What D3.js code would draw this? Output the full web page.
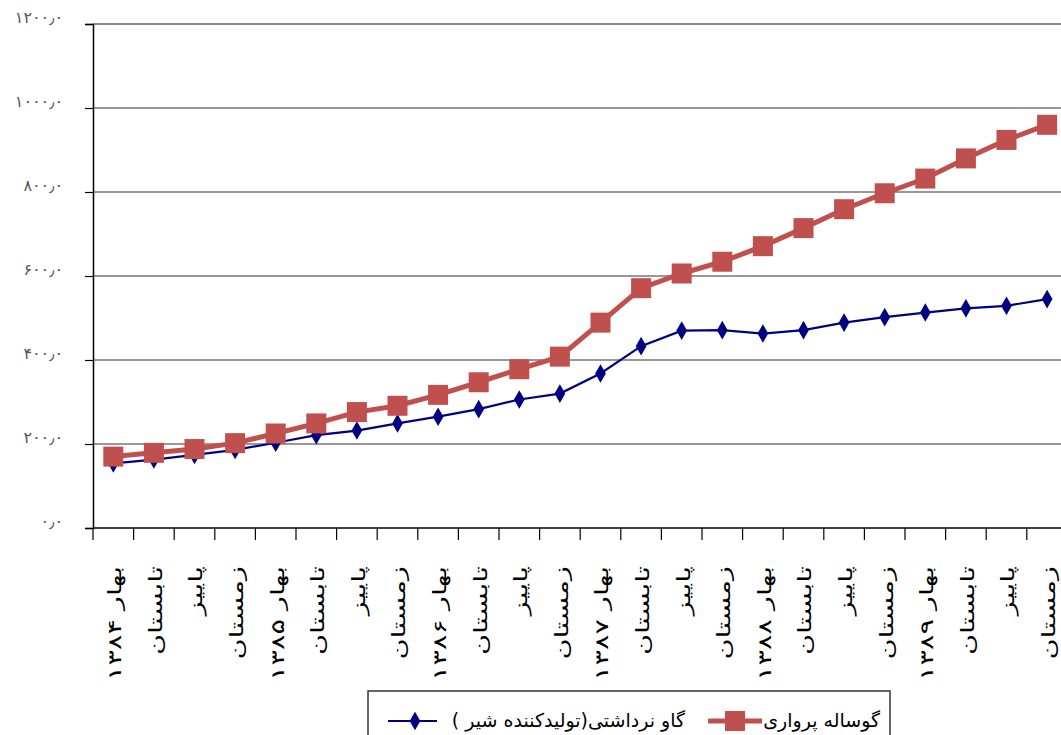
<!DOCTYPE html>
<meta charset="utf-8">
<style>
body { margin: 0; background: #fff; }
svg text { font-family: "DejaVu Sans", sans-serif; }
</style>
<svg id="chart" width="1061" height="735"></svg>
<script src="https://d3js.org/d3.v7.min.js"></script>
<script>

var categories = [
  "بهار ۱۳۸۴", "تابستان", "پاییز", "زمستان",
  "بهار ۱۳۸۵", "تابستان", "پاییز", "زمستان",
  "بهار ۱۳۸۶", "تابستان", "پاییز", "زمستان",
  "بهار ۱۳۸۷", "تابستان", "پاییز", "زمستان",
  "بهار ۱۳۸۸", "تابستان", "پاییز", "زمستان",
  "بهار ۱۳۸۹", "تابستان", "پاییز", "زمستان"
];

// گاو نرداشتی (تولیدکننده شیر)
var gavNardashti = [154, 163, 174, 186, 203, 221, 232, 249, 265, 283, 306, 320,
                    368, 433, 470, 471, 463, 471, 489, 502, 513, 523, 529, 545];

// گوساله پرواری
var gusalehParvari = [170, 179, 188, 202, 225, 249, 276, 291, 317, 347, 378, 408,
                      489, 571, 606, 634, 671, 714, 759, 797, 832, 880, 924, 960];

var yTicks = [0, 200, 400, 600, 800, 1000, 1200];

var nameRed = "گوساله پرواری",
    nameBlue = "گاو نرداشتی(تولیدکننده شیر )";

var red = "#C0504D",
    blue = "#000080";

var plotLeft = 93, plotTop = 24, plotBottom = 528, bandW = 40.6;

var x = d3.scaleBand()
    .domain(d3.range(categories.length))
    .range([plotLeft, plotLeft + bandW * categories.length]);

var y = d3.scaleLinear()
    .domain([0, 1200])
    .range([plotBottom, plotTop]);

var svg = d3.select("#chart");

function persian(s) {
  return s.replace(/[0-9]/g, function(c) { return "۰۱۲۳۴۵۶۷۸۹"[+c]; })
          .replace(".", "٫");
}

// gridlines
svg.append("g").selectAll("line")
    .data(yTicks.filter(function(d) { return d > 0; }))
  .enter().append("line")
    .attr("x1", plotLeft).attr("x2", 1061)
    .attr("y1", function(d) { return y(d); })
    .attr("y2", function(d) { return y(d); })
    .attr("stroke", function(d) { return d == 1200 ? "#888" : "#333"; })
    .attr("stroke-width", function(d) { return d == 1200 ? 2 : 1.2; });

// y axis
var yAxis = d3.axisLeft(y)
    .tickValues(yTicks)
    .tickSize(8)
    .tickFormat(function(d) { return persian(d3.format(".1f")(d)); });

var gy = svg.append("g")
    .attr("transform", "translate(" + plotLeft + ",0)")
    .call(yAxis);
gy.select(".domain").attr("stroke", "#000").attr("stroke-width", 1.5);
gy.selectAll(".tick line").attr("stroke", "#000").attr("stroke-width", 1.2);
gy.selectAll(".tick text")
    .attr("x", -30)
    .attr("dy", "-0.1em")
    .attr("fill", "#555")
    .style("font-size", "16px");

// x axis
svg.append("line")
    .attr("x1", plotLeft).attr("x2", 1061)
    .attr("y1", plotBottom).attr("y2", plotBottom)
    .attr("stroke", "#000").attr("stroke-width", 1.5);

svg.append("g").selectAll("line")
    .data(d3.range(categories.length))
  .enter().append("line")
    .attr("x1", function(i) { return x(i); })
    .attr("x2", function(i) { return x(i); })
    .attr("y1", plotBottom).attr("y2", plotBottom + 12)
    .attr("stroke", "#000").attr("stroke-width", 1.2);

svg.append("g").selectAll("text")
    .data(categories)
  .enter().append("text")
    .attr("transform", function(d, i) {
      return "translate(" + (x(i) + x.bandwidth() / 2 + 2) + ",566) rotate(-90) scale(1.6,1)";
    })
    .attr("direction", "rtl")
    .attr("text-anchor", "start")
    .attr("dominant-baseline", "central")
    .style("font-size", "18px")
    .attr("fill", "#000")
    .text(function(d) { return d; });

var line = d3.line()
    .x(function(d, i) { return x(i) + x.bandwidth() / 2; })
    .y(function(d) { return y(d); });

// blue series
svg.append("path")
    .datum(gavNardashti)
    .attr("d", line)
    .attr("fill", "none")
    .attr("stroke", blue)
    .attr("stroke-width", 2.2);

var diamond = d3.symbol().type(d3.symbolDiamond).size(100);

svg.append("g").selectAll("path")
    .data(gavNardashti)
  .enter().append("path")
    .attr("transform", function(d, i) {
      return "translate(" + (x(i) + x.bandwidth() / 2) + "," + y(d) + ")";
    })
    .attr("d", diamond)
    .attr("fill", blue);

// red series
svg.append("path")
    .datum(gusalehParvari)
    .attr("d", line)
    .attr("fill", "none")
    .attr("stroke", red)
    .attr("stroke-width", 5);

svg.append("g").selectAll("rect")
    .data(gusalehParvari)
  .enter().append("rect")
    .attr("x", function(d, i) { return x(i) + x.bandwidth() / 2 - 10; })
    .attr("y", function(d) { return y(d) - 10; })
    .attr("width", 20)
    .attr("height", 20)
    .attr("fill", red);

// legend
var lg = svg.append("g");
lg.append("rect")
    .attr("x", 368).attr("y", 691)
    .attr("width", 522).attr("height", 60)
    .attr("fill", "#fff")
    .attr("stroke", "#333")
    .attr("stroke-width", 1.5);

lg.append("line")
    .attr("x1", 708).attr("x2", 762)
    .attr("y1", 721).attr("y2", 721)
    .attr("stroke", red).attr("stroke-width", 5);
lg.append("rect")
    .attr("x", 725).attr("y", 711)
    .attr("width", 20).attr("height", 20)
    .attr("fill", red);
lg.append("text")
    .attr("x", 880).attr("y", 720)
    .attr("direction", "rtl")
    .attr("text-anchor", "start")
    .attr("dominant-baseline", "central")
    .style("font-size", "19px")
    .text(nameRed);

lg.append("line")
    .attr("x1", 388).attr("x2", 437)
    .attr("y1", 721).attr("y2", 721)
    .attr("stroke", blue).attr("stroke-width", 2.2);
lg.append("path")
    .attr("transform", "translate(415,721)")
    .attr("d", diamond)
    .attr("fill", blue);
lg.append("text")
    .attr("x", 685).attr("y", 720)
    .attr("direction", "rtl")
    .attr("text-anchor", "start")
    .attr("dominant-baseline", "central")
    .style("font-size", "19px")
    .text(nameBlue);

</script>
